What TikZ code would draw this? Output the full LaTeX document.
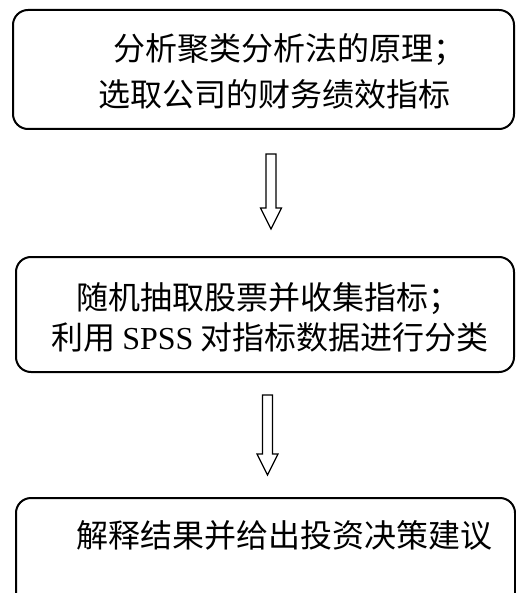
\documentclass[tikz,border=0pt]{standalone}
\usepackage{fontspec}
\setmainfont{Liberation Serif}
\newfontfamily\cjk{Noto Sans CJK SC}
\usepackage{tikz}
\usetikzlibrary{arrows.meta, positioning, calc}

\tikzset{
  stepbox/.style={draw, line width=2pt, rounded corners=15pt, rectangle},
  steptext/.style={anchor=west, inner sep=0pt, align=left},
  hollowarrow/.style={line width=1.2pt, line join=miter,
    to path={let \p1=(\tikztostart), \p2=(\tikztotarget) in
      (\x1-5pt,\y1) -- (\x1+5pt,\y1) -- (\x1+5pt,\y2+21pt) -- (\x1+10.5pt,\y2+21pt)
      -- (\x1,\y2) -- (\x1-10.5pt,\y2+21pt) -- (\x1-5pt,\y2+21pt) -- cycle}}
}

\begin{document}
\begin{tikzpicture}[x=1pt, y=1pt]
  \useasboundingbox (0,0) rectangle (515,-593);

  % --- Boxes (third one runs off the page) ---
  \node[stepbox, minimum width=501pt, minimum height=119pt] (box1) at (263.5,-69.5) {};
  \node[stepbox, minimum width=498pt, minimum height=115pt] (box2) at (265,-314.5) {};
  \node[stepbox, minimum width=499pt, minimum height=116pt] (box3) at (265.5,-556) {};

  % --- Texts ---
  \node[steptext, font=\fontsize{32}{46}\cjk] (txt1) at ([xshift=86pt,yshift=-1.5pt]box1.west)
    {\hspace*{15pt}分析聚类分析法的原理；\\选取公司的财务绩效指标};
  \node[steptext, font=\fontsize{32}{40}\cjk] (txt2) at ([xshift=36pt,yshift=-2.5pt]box2.west)
    {\hspace*{25pt}随机抽取股票并收集指标；\\利用 {\rmfamily SPSS} 对指标数据进行分类};
  \node[steptext, font=\fontsize{32}{40}\cjk] (txt3) at ([xshift=61pt,yshift=21pt]box3.west)
    {解释结果并给出投资决策建议};

  % --- Hollow arrows between the boxes ---
  \coordinate (a1top) at ([xshift=7.5pt,yshift=-24pt]box1.south);
  \coordinate (a1tip) at ($(box2.north -| a1top)+(0,27)$);
  \coordinate (a2top) at ([xshift=2.5pt,yshift=-22pt]box2.south);
  \coordinate (a2tip) at ($(box3.north -| a2top)+(0,22)$);

  \draw[hollowarrow] (a1top) to (a1tip);
  \draw[hollowarrow] (a2top) to (a2tip);

\end{tikzpicture}
\end{document}
